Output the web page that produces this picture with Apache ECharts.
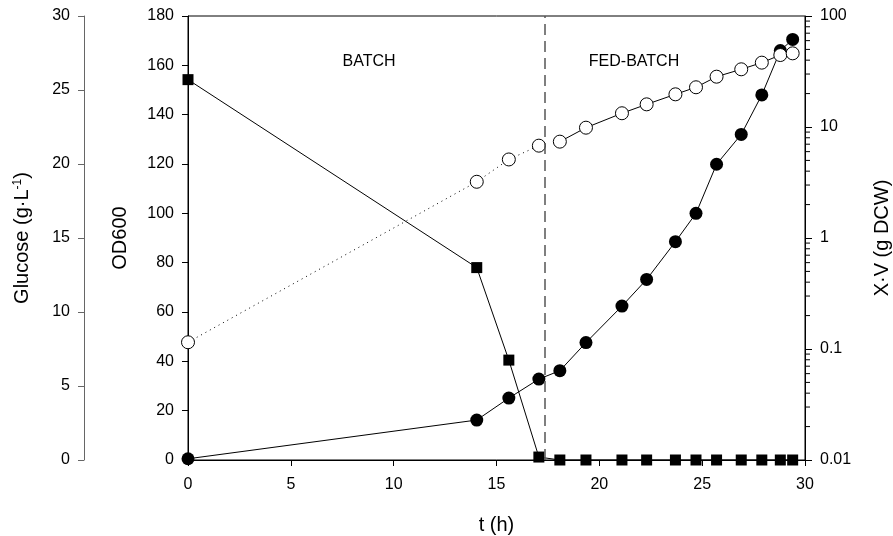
<!DOCTYPE html>
<html>
<head>
<meta charset="utf-8">
<script src="https://cdn.jsdelivr.net/npm/echarts@6/dist/echarts.min.js"></script>
<style>
  html, body { margin: 0; padding: 0; background: #fff; }
  #chart { width: 893px; height: 536px; }
</style>
</head>
<body>
<div id="chart"></div>
<script>
  // sampling times (h)
  var tAll = [0, 14.04, 15.6, 17.06, 18.08, 19.35, 21.1, 22.3, 23.7, 24.7, 25.7, 26.9, 27.9, 28.8, 29.4];
  // glucose g/L (squares)
  var glucose = [25.7, 13.0, 6.75, 0.2, 0, 0, 0, 0, 0, 0, 0, 0, 0, 0, 0];
  // OD600 (filled circles)
  var od600 = [0.5, 16.2, 25.1, 32.8, 36.2, 47.6, 62.4, 73.2, 88.5, 100, 119.9, 132, 148, 166, 170.5];
  // X*V g DCW (open circles), batch and fed-batch phases
  var tBatch = [0, 14.04, 15.6, 17.06];
  var xvBatch = [0.115, 3.21, 5.1, 6.79];
  var tFed = [18.08, 19.35, 21.1, 22.3, 23.7, 24.7, 25.7, 26.9, 27.9, 28.8, 29.4];
  var xvFed = [7.38, 9.86, 13.3, 16.0, 19.7, 22.8, 28.4, 33.1, 38.0, 44.5, 46.1];
  var feedStart = 17.35;
  var logMinor = [0.02,0.03,0.04,0.05,0.06,0.07,0.08,0.09,0.2,0.3,0.4,0.5,0.6,0.7,0.8,0.9,
                  2,3,4,5,6,7,8,9,20,30,40,50,60,70,80,90];
  var tMax = 30;

  function pairs(xs, ys) {
    return xs.map(function (x, i) { return [x, ys[i]]; });
  }

  var font = 'Liberation Sans, Arial, sans-serif';
  var tickLabel = { color: '#000', fontSize: 16, fontFamily: font };
  var titleStyle = { color: '#000', fontSize: 20, fontFamily: font };

  var chart = echarts.init(document.getElementById('chart'));
  chart.setOption({
    animation: false,
    grid: {
      left: 188, right: 88, top: 16, bottom: 76, outerBoundsMode: 'none', containLabel: false,
      show: true, borderColor: '#000', borderWidth: 1
    },
    xAxis: {
      type: 'value', min: 0, max: tMax, interval: 5,
      name: 't (h)', nameLocation: 'middle', nameGap: 55, nameTextStyle: titleStyle,
      axisLine: { lineStyle: { color: '#000' } },
      axisTick: { length: 6, lineStyle: { color: '#000' } },
      axisLabel: Object.assign({ margin: 17 }, tickLabel),
      splitLine: { show: false }
    },
    yAxis: [
      {
        type: 'value', min: 0, max: 180, interval: 20, position: 'left',
        name: 'OD600', nameLocation: 'middle', nameGap: 58, nameTextStyle: titleStyle,
        axisLine: { show: true, lineStyle: { color: '#000' } },
        axisTick: { show: true, length: 6, lineStyle: { color: '#000' } },
        axisLabel: Object.assign({ margin: 14 }, tickLabel),
        splitLine: { show: false }
      },
      {
        type: 'value', min: 0, max: 30, interval: 5, position: 'left', offset: 104,
        name: 'Glucose (g·L{sup|-1})', nameLocation: 'middle', nameGap: 52,
        nameTextStyle: Object.assign({ rich: { sup: { fontSize: 12, verticalAlign: 'top', fontFamily: font, color: '#000' } } }, titleStyle),
        axisLine: { show: true, lineStyle: { color: '#666' } },
        axisTick: { show: true, length: 6, lineStyle: { color: '#666' } },
        axisLabel: Object.assign({ margin: 14 }, tickLabel),
        splitLine: { show: false }
      },
      {
        type: 'log', logBase: 10, min: 0.01, max: 100, position: 'right',
        name: 'X·V (g DCW)', nameLocation: 'middle', nameGap: 67, nameTextStyle: titleStyle,
        axisLine: { show: true, lineStyle: { color: '#000' } },
        axisTick: { show: true, length: 7, lineStyle: { color: '#000' } },
        axisLabel: Object.assign({ margin: 15, formatter: function (v) { return String(+v.toPrecision(3)); } }, tickLabel),
        splitLine: { show: false }
      }
    ],
    graphic: [
      { type: 'text', x: 369, y: 62, style: { text: 'BATCH', fill: '#000', fontSize: 16, fontFamily: font, textAlign: 'center', textVerticalAlign: 'middle' } },
      { type: 'text', x: 634, y: 62, style: { text: 'FED-BATCH', fill: '#000', fontSize: 16, fontFamily: font, textAlign: 'center', textVerticalAlign: 'middle' } }
    ],
    series: [
      {
        name: 'minor', type: 'custom', xAxisIndex: 0, yAxisIndex: 2, silent: true, clip: false,
        data: logMinor.map(function (v) { return [tMax, v]; }),
        renderItem: function (params, api) {
          var p = api.coord([api.value(0), api.value(1)]);
          return { type: 'line', shape: { x1: p[0], y1: p[1], x2: p[0] + 5, y2: p[1] }, style: { stroke: '#000', lineWidth: 1 } };
        }
      },
      {
        name: 'Glucose', type: 'line', yAxisIndex: 1, data: pairs(tAll, glucose),
        symbol: 'rect', symbolSize: 11, clip: false,
        lineStyle: { color: '#000', width: 1 }, itemStyle: { color: '#000' },
        markLine: {
          silent: true, symbol: 'none', label: { show: false },
          lineStyle: { color: '#555', width: 1.5, type: [11, 6] },
          data: [{ xAxis: feedStart }]
        }
      },
      {
        name: 'OD600', type: 'line', yAxisIndex: 0, data: pairs(tAll, od600),
        symbol: 'circle', symbolSize: 13, clip: false,
        lineStyle: { color: '#000', width: 1 }, itemStyle: { color: '#000' }
      },
      {
        name: 'XV batch', type: 'line', yAxisIndex: 2, data: pairs(tBatch, xvBatch),
        symbol: 'circle', symbolSize: 13, clip: false,
        lineStyle: { color: '#000', width: 1, type: [1, 4] },
        itemStyle: { color: '#fff', borderColor: '#000', borderWidth: 1 }
      },
      {
        name: 'XV fed-batch', type: 'line', yAxisIndex: 2, data: pairs(tFed, xvFed),
        symbol: 'circle', symbolSize: 13, clip: false,
        lineStyle: { color: '#000', width: 1 },
        itemStyle: { color: '#fff', borderColor: '#000', borderWidth: 1 }
      }
    ]
  });
</script>
</body>
</html>
